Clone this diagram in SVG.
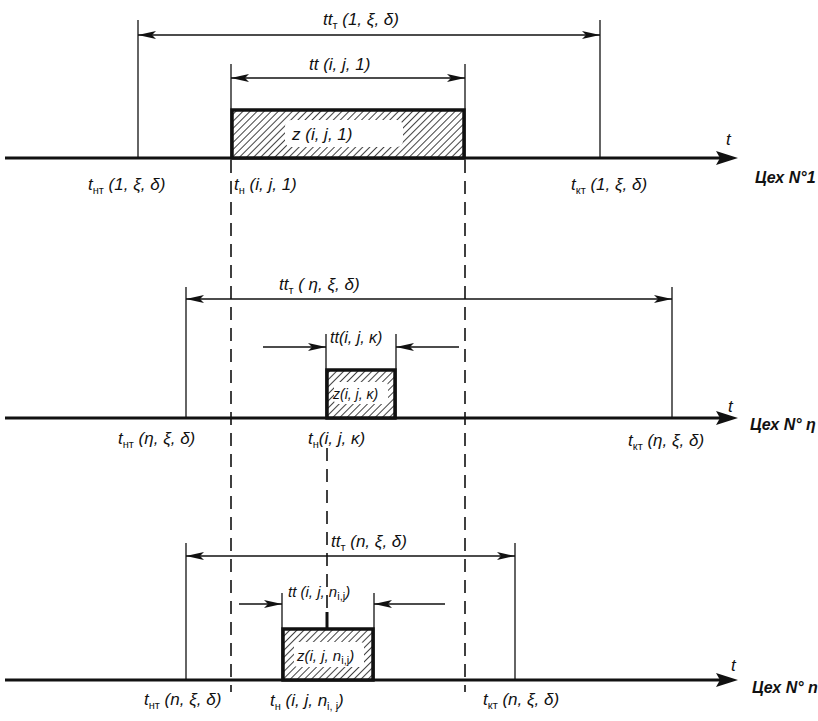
<svg xmlns="http://www.w3.org/2000/svg" width="818" height="721" viewBox="0 0 818 721">
<style>
text{font-family:"Liberation Sans","DejaVu Sans",sans-serif;font-style:italic;font-size:17px;fill:#111}
.sub{font-size:11px;font-style:normal}
.ax{stroke:#111;stroke-width:3;fill:none}
.thin{stroke:#111;stroke-width:1.3;fill:none}
.dim{stroke:#111;stroke-width:1.3;fill:none;marker-end:url(#ah)}
.dim2{stroke:#111;stroke-width:1.3;fill:none;marker-start:url(#ah);marker-end:url(#ah)}
.dash{stroke:#111;stroke-width:1.6;fill:none;stroke-dasharray:13 8}
.box{fill:url(#hatch);stroke:#111;stroke-width:3.5}
.lbg{fill:#fff}
.shop{font-weight:bold;font-size:16px}
</style>
<defs>
<pattern id="hatch" patternUnits="userSpaceOnUse" width="5" height="5" patternTransform="rotate(45)">
<rect width="5" height="5" fill="#fff"/>
<line x1="0" y1="0" x2="0" y2="5" stroke="#111" stroke-width="1.6"/>
</pattern>
<marker id="ah" viewBox="0 0 18 10" refX="18" refY="5" markerWidth="18" markerHeight="10" markerUnits="userSpaceOnUse" orient="auto-start-reverse">
<path d="M0,1 L18,5 L0,9 L4,5 Z" fill="#111"/>
</marker>
</defs>

<g id="connectors">
<line class="dash" x1="231" y1="160" x2="231" y2="692"/>
<line class="dash" x1="465" y1="160" x2="465" y2="692"/>
<line class="dash" x1="327" y1="448" x2="327" y2="628"/>
</g>

<g id="shop1">
<line class="ax" x1="5" y1="158" x2="720" y2="158"/>
<polygon points="716,151 738,158 716,165 720,158" fill="#111"/>
<line class="thin" x1="138" y1="20" x2="138" y2="158"/>
<line class="thin" x1="600" y1="20" x2="600" y2="158"/>
<line class="dim2" x1="138" y1="35" x2="600" y2="35"/>
<line class="thin" x1="231" y1="64" x2="231" y2="158"/>
<line class="thin" x1="465" y1="64" x2="465" y2="158"/>
<line class="dim2" x1="231" y1="78" x2="465" y2="78"/>
<rect class="box" x="232" y="110" width="232" height="48"/>
<rect class="lbg" x="285" y="120" width="118" height="27" rx="6"/>
<text x="323" y="25">tt<tspan class="sub" dy="4">т</tspan><tspan dy="-4"> (1, ξ, δ)</tspan></text>
<text x="309" y="70">tt (i, j, 1)</text>
<text x="292" y="140">z (i, j, 1)</text>
<text x="88" y="190">t<tspan class="sub" dy="4">нт</tspan><tspan dy="-4"> (1, ξ, δ)</tspan></text>
<text x="234" y="190">t<tspan class="sub" dy="4">н</tspan><tspan dy="-4"> (i, j, 1)</tspan></text>
<text x="571" y="190">t<tspan class="sub" dy="4">кт</tspan><tspan dy="-4"> (1, ξ, δ)</tspan></text>
<text x="726" y="145">t</text>
<text x="755" y="183" class="shop">Цех N°1</text>
</g>

<g id="shop-eta">
<line class="ax" x1="5" y1="418" x2="720" y2="418"/>
<polygon points="716,411 738,418 716,425 720,418" fill="#111"/>
<line class="thin" x1="186" y1="287" x2="186" y2="418"/>
<line class="thin" x1="672" y1="287" x2="672" y2="418"/>
<line class="dim2" x1="186" y1="299" x2="672" y2="299"/>
<line class="thin" x1="326" y1="334" x2="326" y2="418"/>
<line class="thin" x1="396" y1="334" x2="396" y2="418"/>
<line class="dim" x1="263" y1="347" x2="326" y2="347"/>
<line class="dim" x1="459" y1="347" x2="396" y2="347"/>
<rect class="box" x="327" y="370" width="68" height="48"/>
<rect class="lbg" x="334" y="382" width="54" height="22" rx="4"/>
<text x="279" y="290">tt<tspan class="sub" dy="4">т</tspan><tspan dy="-4"> ( η, ξ, δ)</tspan></text>
<text x="330" y="343" style="font-size:16px">tt(i, j, κ)</text>
<text x="333" y="399" style="font-size:14px">z(i, j, κ)</text>
<text x="118" y="444">t<tspan class="sub" dy="4">нт</tspan><tspan dy="-4"> (η, ξ, δ)</tspan></text>
<text x="308" y="444">t<tspan class="sub" dy="4">н</tspan><tspan dy="-4">(i, j, κ)</tspan></text>
<text x="628" y="446">t<tspan class="sub" dy="4">кт</tspan><tspan dy="-4"> (η, ξ, δ)</tspan></text>
<text x="728" y="412">t</text>
<text x="750" y="430" class="shop">Цех N° η</text>
</g>

<g id="shop-n">
<line class="ax" x1="5" y1="680" x2="720" y2="680"/>
<polygon points="716,673 738,680 716,687 720,680" fill="#111"/>
<line class="thin" x1="186" y1="543" x2="186" y2="680"/>
<line class="thin" x1="515" y1="543" x2="515" y2="680"/>
<line class="dim2" x1="186" y1="556" x2="515" y2="556"/>
<line class="thin" x1="282" y1="593" x2="282" y2="680"/>
<line class="thin" x1="374" y1="593" x2="374" y2="680"/>
<line class="dim" x1="239" y1="604" x2="282" y2="604"/>
<line class="dim" x1="445" y1="604" x2="374" y2="604"/>
<line x1="327" y1="612" x2="327" y2="628" stroke="#111" stroke-width="3"/>
<rect class="box" x="283" y="629" width="90" height="51"/>
<rect class="lbg" x="294" y="642" width="70" height="25" rx="4"/>
<text x="331" y="547">tt<tspan class="sub" dy="4">т</tspan><tspan dy="-4"> (n, ξ, δ)</tspan></text>
<text x="288" y="597" style="font-size:15px">tt (i, j, n<tspan class="sub" dy="3">i,j</tspan><tspan dy="-3">)</tspan></text>
<text x="297" y="661" style="font-size:15px">z(i, j, n<tspan class="sub" dy="3">i,j</tspan><tspan dy="-3">)</tspan></text>
<text x="144" y="705">t<tspan class="sub" dy="4">нт</tspan><tspan dy="-4"> (n, ξ, δ)</tspan></text>
<text x="270" y="706">t<tspan class="sub" dy="4">н</tspan><tspan dy="-4"> (i, j, n</tspan><tspan class="sub" dy="4">i, j</tspan><tspan dy="-4">)</tspan></text>
<text x="483" y="705">t<tspan class="sub" dy="4">кт</tspan><tspan dy="-4"> (n, ξ, δ)</tspan></text>
<text x="731" y="671">t</text>
<text x="752" y="693" class="shop">Цех N° n</text>
</g>
</svg>
